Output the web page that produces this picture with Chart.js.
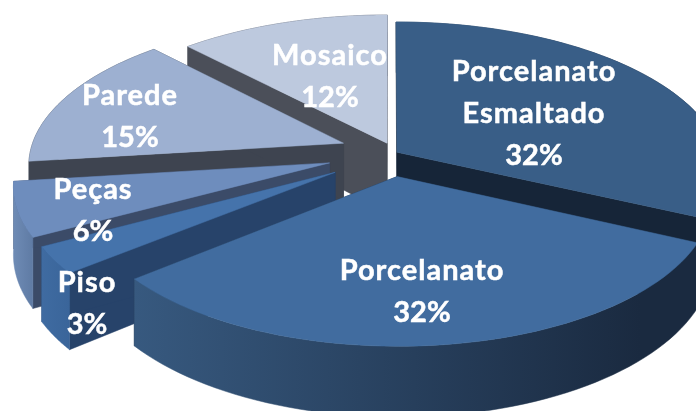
<!DOCTYPE html>
<html>
<head>
<meta charset="utf-8">
<style>html,body{margin:0;padding:0;background:#fff;overflow:hidden}canvas{display:block}</style>
<script src="https://cdn.jsdelivr.net/npm/chart.js@4"></script>
</head>
<body>
<canvas id="c" width="696" height="411"></canvas>
<script>
const categories = [['Porcelanato','Esmaltado'],['Porcelanato'],['Piso'],['Peças'],['Parede'],['Mosaico']];
const percentages = [32,32,3,6,15,12];
const topColors = ['#395e87','#416c9f','#4573ab','#6e8dbd','#9db0d1','#bdc9de'];
const wallStops = [['#2c4a6c','#1a2a40'],['#37597f','#1a2a40'],['#3f6ba1','#3a659a'],['#6e8bb5','#5f7ba4'],['#3e4450','#3e4450'],['#4b4f59','#4b4f59']];
const cutColors = ['#162538','#1a2a40','#27436a','#3b4b68','#3e4450','#4b4f59'];
// explode offset of each slice on the pie plane, and its drawn size
const explodeX = [7,7,-54,-60,-47,-3];
const explodeY = [-6,46,37,17,-26,-26];
const sliceZoom = [1.58,1.49,1.48,1.507,1.53,1.58];
const sliceDepth = [58,60,69,66,58,70];
const paintOrder = [5,0,4,3,2,1];
const labelCentres = [[534,72],[422,271],[87,283],[93,190],[130,96],[330,56]];
const view = {cx:390, cy:155, tilt:0.46, persp:0.000434, lineH:42};

function pt(i, R, a, z){
  const X = explodeX[i] + R*Math.cos(a), Y = explodeY[i] + R*Math.sin(a);
  const w = 1 - Y*view.persp;
  return [view.cx + X/w, view.cy + (view.tilt*Y + z)/w];
}
function poly(ctx, pts, fill){
  ctx.beginPath();
  pts.forEach((p,j)=> j ? ctx.lineTo(p[0],p[1]) : ctx.moveTo(p[0],p[1]));
  ctx.closePath();
  ctx.fillStyle = fill; ctx.fill();
  ctx.strokeStyle = fill; ctx.lineWidth = 0.5; ctx.stroke();
}
const pie3d = {
  id:'pie3d',
  beforeDatasetsDraw(chart){
    const ctx = chart.ctx, arcs = chart.getDatasetMeta(0).data;
    ctx.save();
    paintOrder.forEach(i=>{
      const arc = arcs[i], R = arc.outerRadius*sliceZoom[i], a0 = arc.startAngle, a1 = arc.endAngle, D = sliceDepth[i];
      const N = 60, top = [], bot = [];
      for(let n=0;n<=N;n++){
        const a = a0+(a1-a0)*n/N;
        top.push(pt(i,R,a,0)); bot.push(pt(i,R,a,D));
      }
      const c0 = pt(i,0,0,0), c1 = pt(i,0,0,D);
      poly(ctx,[c0,top[0],bot[0],c1],cutColors[i]);
      poly(ctx,[c0,top[N],bot[N],c1],cutColors[i]);
      const xs = top.map(p=>p[0]);
      const g = ctx.createLinearGradient(Math.min(...xs),0,Math.min(Math.max(...xs),640),0);
      g.addColorStop(0,wallStops[i][0]); g.addColorStop(1,wallStops[i][1]);
      poly(ctx,top.concat(bot.slice().reverse()),g);
      poly(ctx,[c0].concat(top),arc.options.backgroundColor);
    });
    ctx.restore();
    return false;
  },
  afterDraw(chart){
    const ctx = chart.ctx;
    ctx.save();
    ctx.font = 'bold 29px Lato';
    ctx.fillStyle = '#fff'; ctx.strokeStyle = '#fff'; ctx.lineWidth = 0.5;
    ctx.textAlign = 'center'; ctx.textBaseline = 'middle';
    chart.data.labels.forEach((lab,i)=>{
      lab.forEach((t,j)=>{
        ctx.letterSpacing = '1px';
        const y = labelCentres[i][1]+j*view.lineH;
        ctx.fillText(t, labelCentres[i][0], y); ctx.strokeText(t, labelCentres[i][0], y);
      });
      ctx.letterSpacing = '0px';
      const t = percentages[i]+'%', y = labelCentres[i][1]+lab.length*view.lineH;
      ctx.fillText(t, labelCentres[i][0], y); ctx.strokeText(t, labelCentres[i][0], y);
    });
    ctx.restore();
  }
};
new Chart(document.getElementById('c'),{
  type:'pie',
  data:{labels:categories,datasets:[{data:percentages,backgroundColor:topColors,borderWidth:0}]},
  options:{responsive:false,animation:false,layout:{padding:0},plugins:{legend:{display:false},tooltip:{enabled:false}}},
  plugins:[pie3d]
});
</script>
</body>
</html>
